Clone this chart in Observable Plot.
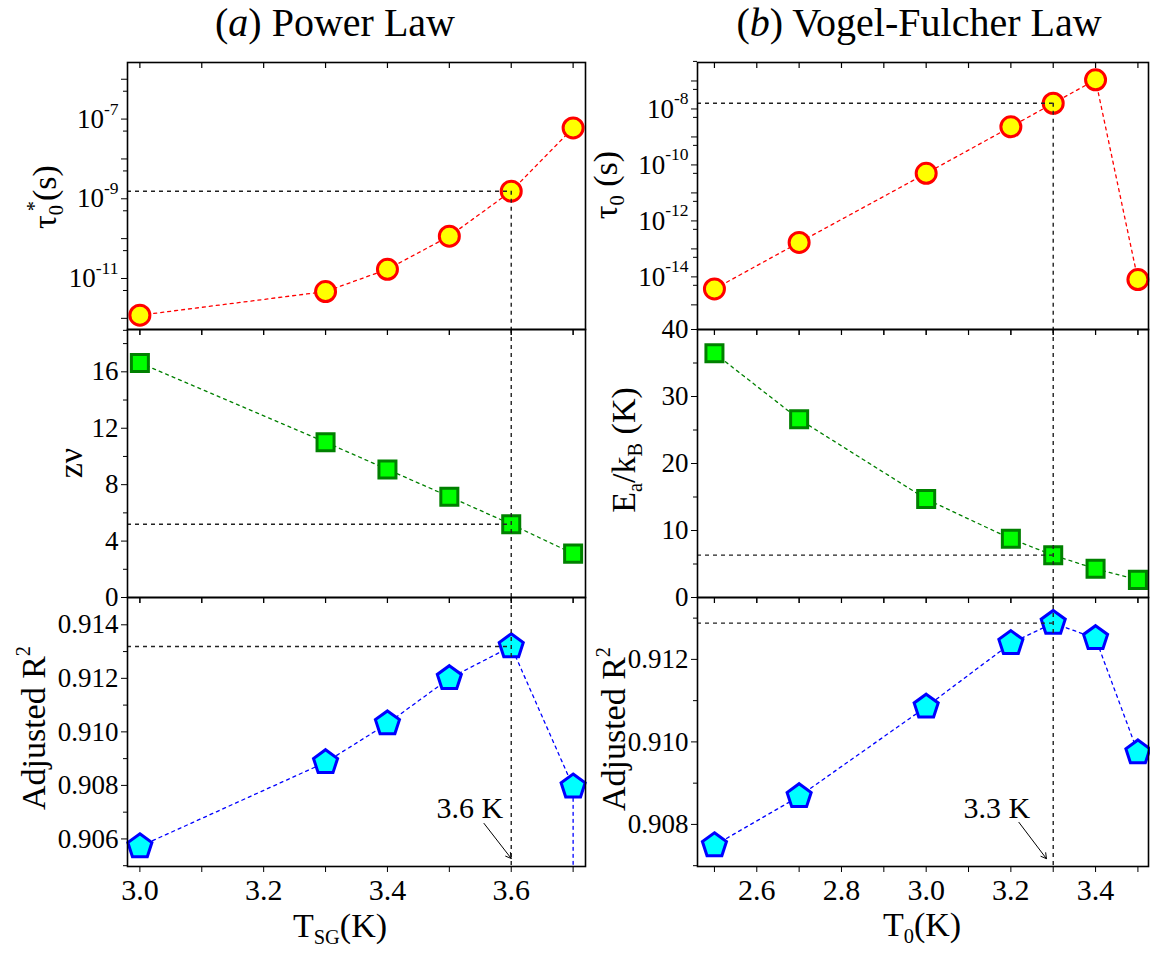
<!DOCTYPE html>
<html><head><meta charset="utf-8">
<script src="https://cdn.jsdelivr.net/npm/d3@7"></script>
<script src="https://cdn.jsdelivr.net/npm/@observablehq/plot@0.6"></script>
<style>
body{margin:0;background:#fff;}
#chart{position:relative;width:1150px;height:960px;font-family:"Liberation Serif","Times New Roman",serif;color:#000;overflow:hidden;}
#chart svg{position:absolute;}
#chart svg text{font-family:"Liberation Serif",serif !important;font-variant:normal !important;font-variant-numeric:normal !important;}
.lbl{position:absolute;white-space:nowrap;line-height:1;font-size:34px;}
.rot{transform:translate(-50%,-50%) rotate(-90deg);}
.hc{transform:translateX(-50%);}
.sub{font-size:60%;position:relative;top:0.35em;}
.sup{font-size:60%;position:relative;top:-0.75em;}
</style></head><body><div id="chart"></div>
<script>
// ---------- data ----------
const xPL = [3.0, 3.3, 3.4, 3.5, 3.6, 3.7];                 // T_SG (K)
const tauStarPL = [1.2e-12, 4.7e-12, 1.7e-11, 1.15e-10, 1.55e-9, 6.0e-8];
const zNuPL = [16.63, 11.01, 9.08, 7.15, 5.19, 3.11];
const r2PL = [0.90572, 0.90886, 0.91031, 0.91200, 0.91319, 0.90795];
const r2PLTailX = [3.7];          // next fit point falls below the axis
const r2PLTail = [0.9000];

const xVF = [2.5, 2.7, 3.0, 3.2, 3.3, 3.4, 3.5];            // T_0 (K)
const tauVF = [3.7e-15, 1.7e-13, 5.0e-11, 2.3e-9, 1.6e-8, 1.1e-7, 8.0e-15];
const eaVF = [36.47, 26.6, 14.69, 8.76, 6.32, 4.28, 2.63];
const r2VF = [0.90749, 0.90868, 0.91085, 0.91239, 0.91288, 0.91251, 0.90974];

const bestPL = 3.6, bestVF = 3.3;
const annPL = {label: "3.6 K", tx: 3.533, ty: 0.90714, x1: 3.556, y1: 0.90658, x2: 3.6, y2: 0.90527};
const annVF = {label: "3.3 K", tx: 3.167, ty: 0.90839, x1: 3.219, y1: 0.90805, x2: 3.284, y2: 0.90717};

// ticks
const xTicksPL = [3.0, 3.1, 3.2, 3.3, 3.4, 3.5, 3.6, 3.7];
const xLabelsPL = [3.0, 3.2, 3.4, 3.6];
const xTicksVF = [2.5, 2.6, 2.7, 2.8, 2.9, 3.0, 3.1, 3.2, 3.3, 3.4, 3.5];
const xLabelsVF = [2.6, 2.8, 3.0, 3.2, 3.4];

const tlTicks = [1e-12, 1e-11, 1e-10, 1e-9, 1e-8, 1e-7, 1e-6];
const tlLabels = [1e-11, 1e-9, 1e-7];
const tlMinor = [5e-13, 5e-12, 5e-11, 5e-10, 5e-9, 5e-8, 5e-7];
const mlTicks = [0, 4, 8, 12, 16];
const mlMinor = [2, 6, 10, 14, 18];
const blTicks = [0.906, 0.908, 0.910, 0.912, 0.914];
const blMinor = [0.905, 0.907, 0.909, 0.911, 0.913];

const trTicks = [1e-15, 1e-14, 1e-13, 1e-12, 1e-11, 1e-10, 1e-9, 1e-8, 1e-7];
const trLabels = [1e-14, 1e-12, 1e-10, 1e-8];
const trMinor = [5e-15, 5e-14, 5e-13, 5e-12, 5e-11, 5e-10, 5e-9, 5e-8, 5e-7];
const mrTicks = [0, 10, 20, 30, 40];
const mrMinor = [5, 15, 25, 35];
const brTicks = [0.908, 0.910, 0.912];
const brMinor = [0.907, 0.909, 0.911, 0.913];

// ---------- helpers ----------
const serif = "Liberation Serif";
const pentagon = {
  draw(ctx, size) {
    const R = Math.sqrt(size / Math.PI) * 1.12;
    for (let k = 0; k < 5; k++) {
      const a = -Math.PI / 2 + k * 2 * Math.PI / 5;
      const px = R * Math.cos(a), py = R * Math.sin(a);
      k ? ctx.lineTo(px, py) : ctx.moveTo(px, py);
    }
    ctx.closePath();
  }
};
const refStyle = {stroke: "#222", strokeWidth: 1.4, strokeDasharray: "4,4"};
const pts = (xs, ys) => xs.map((x, i) => ({x, y: ys[i]}));
const chart = document.getElementById("chart");

function makePanel(o) {
  const innerH = o.height - o.mt - o.mb;
  const yLab = new Set(o.yLabels.map(String));
  const xLab = new Set(o.xLabels.map(v => v.toFixed(1)));
  const marks = [
    ...o.marks,
    Plot.frame({stroke: "#000", strokeWidth: 1.6}),
    Plot.axisY({ticks: o.yTicks, tickSize: 6, tickPadding: 3, fontSize: 27, fontFamily: serif, fontVariant: "normal", fill: "#000", label: null,
      tickFormat: d => yLab.has(String(d)) ? o.yFmt(d) : ""}),
    Plot.axisY({ticks: o.yMinor, tickSize: 4, label: null, tickFormat: () => ""}),
    Plot.tickX(o.xTicks, {x: d => d, insetBottom: innerH - 6, stroke: "#000", strokeWidth: 1.2}),
    Plot.axisX({anchor: "bottom", ticks: o.xTicks, tickSize: 6, tickPadding: 6, fontSize: 30, fontFamily: serif, fontVariant: "normal", fill: "#000", label: null,
      tickFormat: d => (o.showX && xLab.has(d.toFixed(1))) ? d.toFixed(1) : ""})
  ];
  const svg = Plot.plot({
    width: o.width, height: o.height,
    marginLeft: o.ml, marginRight: o.mr, marginTop: o.mt, marginBottom: o.mb,
    x: {domain: o.xDomain},
    y: {type: o.yType, domain: o.yDomain},
    style: {background: "transparent", overflow: "visible", fontFamily: serif, color: "#000"},
    marks
  });
  svg.style.left = o.left + "px";
  svg.style.top = o.top + "px";
  svg.querySelectorAll("text").forEach(t => {
    const s = t.textContent;
    if (s.startsWith("10^")) {
      t.textContent = "10";
      const ts = document.createElementNS("http://www.w3.org/2000/svg", "tspan");
      ts.setAttribute("dy", "-0.75em");
      ts.style.fontSize = "65%";
      ts.textContent = s.slice(3);
      t.appendChild(ts);
    }
  });
  chart.appendChild(svg);
}
const logFmt = d => "10^" + Math.round(Math.log10(d));
const f3 = d => d.toFixed(3);
const f0 = d => String(d);

const L = {left: 0, width: 600, ml: 127, mr: 15, xDomain: [2.98, 3.72], xTicks: xTicksPL, xLabels: xLabelsPL};
const R = {left: 590, width: 560, ml: 107, mr: 2, xDomain: [2.46, 3.525], xTicks: xTicksVF, xLabels: xLabelsVF};
const T = {top: 0, height: 340, mt: 62, mb: 11};
const M = {top: 300, height: 310, mt: 29, mb: 13};
const B = {top: 580, height: 380, mt: 17, mb: 94};

function series(xs, ys, color, dot) {
  return [
    Plot.line(pts(xs, ys), {x: "x", y: "y", stroke: color, strokeWidth: 1.3, strokeDasharray: "3,4", clip: true}),
    Plot.dot(pts(xs, ys), {x: "x", y: "y", ...dot})
  ];
}
const circ = {r: 10, symbol: "circle", fill: "#ffff00", stroke: "#ff0000", strokeWidth: 3};
const sq = {r: 9.6, symbol: "square", fill: "#00ff00", stroke: "#008000", strokeWidth: 3};
const pent = {r: 11.3, symbol: pentagon, fill: "#00ffff", stroke: "#0000ff", strokeWidth: 3};

// ---------- Power law (left) ----------
const iPL = xPL.indexOf(bestPL);
const tlDom = [Math.pow(10, -12.28), Math.pow(10, -5.58)];
makePanel({...L, ...T, yType: "log", yDomain: tlDom, yTicks: tlTicks, yLabels: tlLabels, yMinor: tlMinor, yFmt: logFmt, showX: false,
  marks: [
    ...series(xPL, tauStarPL, "#ff0000", circ),
    Plot.ruleY([{y: tauStarPL[iPL], x1: L.xDomain[0], x2: bestPL}], {y: "y", x1: "x1", x2: "x2", ...refStyle}),
    Plot.ruleX([{x: bestPL, y1: tauStarPL[iPL], y2: tlDom[0]}], {x: "x", y1: "y1", y2: "y2", ...refStyle})
  ]});
makePanel({...L, ...M, yType: "linear", yDomain: [0, 19], yTicks: mlTicks, yLabels: mlTicks, yMinor: mlMinor, yFmt: f0, showX: false,
  marks: [
    ...series(xPL, zNuPL, "#008000", sq),
    Plot.ruleY([{y: zNuPL[iPL], x1: L.xDomain[0], x2: bestPL}], {y: "y", x1: "x1", x2: "x2", ...refStyle}),
    Plot.ruleX([bestPL], refStyle)
  ]});
makePanel({...L, ...B, yType: "linear", yDomain: [0.90497, 0.91502], yTicks: blTicks, yLabels: blTicks, yMinor: blMinor, yFmt: f3, showX: true,
  marks: [
    Plot.line(pts(xPL, r2PL).concat(pts(r2PLTailX, r2PLTail)), {x: "x", y: "y", stroke: "#0000ff", strokeWidth: 1.3, strokeDasharray: "3,4", clip: true}),
    Plot.dot(pts(xPL, r2PL), {x: "x", y: "y", ...pent}),
    Plot.ruleY([{y: r2PL[iPL], x1: L.xDomain[0], x2: bestPL}], {y: "y", x1: "x1", x2: "x2", ...refStyle}),
    Plot.ruleX([bestPL], refStyle),
    Plot.text([annPL], {x: "tx", y: "ty", text: "label", fontSize: 30, fontFamily: serif, fill: "#000"}),
    Plot.arrow([annPL], {x1: "x1", y1: "y1", x2: "x2", y2: "y2", stroke: "#000", strokeWidth: 1, headLength: 9})
  ]});

// ---------- Vogel-Fulcher (right) ----------
const iVF = xVF.indexOf(bestVF);
const trDom = [Math.pow(10, -15.88), Math.pow(10, -6.34)];
makePanel({...R, ...T, yType: "log", yDomain: trDom, yTicks: trTicks, yLabels: trLabels, yMinor: trMinor, yFmt: logFmt, showX: false,
  marks: [
    ...series(xVF, tauVF, "#ff0000", circ),
    Plot.ruleY([{y: tauVF[iVF], x1: R.xDomain[0], x2: bestVF}], {y: "y", x1: "x1", x2: "x2", ...refStyle}),
    Plot.ruleX([{x: bestVF, y1: tauVF[iVF], y2: trDom[0]}], {x: "x", y1: "y1", y2: "y2", ...refStyle})
  ]});
makePanel({...R, ...M, yType: "linear", yDomain: [0, 40], yTicks: mrTicks, yLabels: mrTicks, yMinor: mrMinor, yFmt: f0, showX: false,
  marks: [
    ...series(xVF, eaVF, "#008000", sq),
    Plot.ruleY([{y: eaVF[iVF], x1: R.xDomain[0], x2: bestVF}], {y: "y", x1: "x1", x2: "x2", ...refStyle}),
    Plot.ruleX([bestVF], refStyle)
  ]});
makePanel({...R, ...B, yType: "linear", yDomain: [0.90698, 0.9135], yTicks: brTicks, yLabels: brTicks, yMinor: brMinor, yFmt: f3, showX: true,
  marks: [
    ...series(xVF, r2VF, "#0000ff", pent),
    Plot.ruleY([{y: r2VF[iVF], x1: R.xDomain[0], x2: bestVF}], {y: "y", x1: "x1", x2: "x2", ...refStyle}),
    Plot.ruleX([bestVF], refStyle),
    Plot.text([annVF], {x: "tx", y: "ty", text: "label", fontSize: 30, fontFamily: serif, fill: "#000"}),
    Plot.arrow([annVF], {x1: "x1", y1: "y1", x2: "x2", y2: "y2", stroke: "#000", strokeWidth: 1, headLength: 9})
  ]});

// ---------- titles & axis labels ----------
function label(html, x, y, cls, size) {
  const d = document.createElement("div");
  d.className = "lbl " + cls;
  d.style.left = x + "px";
  d.style.top = y + "px";
  if (size) d.style.fontSize = size + "px";
  d.innerHTML = html;
  chart.appendChild(d);
}
label('(<i>a</i>) Power Law', 335, 3, "hc", 40);
label('(<i>b</i>) Vogel-Fulcher Law', 919, 3, "hc", 40);
label('T<span class="sub">SG</span>(K)', 340, 909, "hc");
label('T<span class="sub">0</span>(K)', 922, 908, "hc");
label('τ<span class="sub">0</span><span class="sup" style="margin-left:-0.3em">*</span>(s)', 45, 197, "rot");
label('zν', 71, 463, "rot");
label('Adjusted R<span class="sup">2</span>', 34, 728, "rot");
label('τ<span class="sub">0</span> (s)', 606, 185, "rot");
label('E<span class="sub">a</span>/k<span class="sub">B</span> (K)', 624, 450, "rot");
label('Adjusted R<span class="sup">2</span>', 614, 729, "rot");
</script></body></html>
